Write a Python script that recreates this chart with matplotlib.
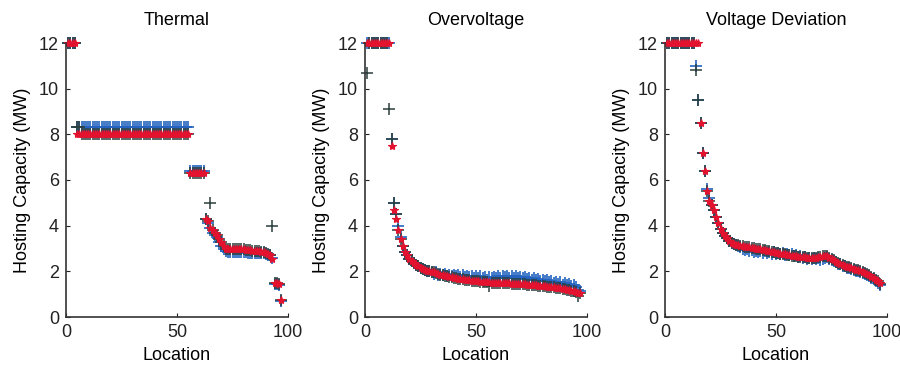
import numpy as np
import matplotlib
matplotlib.use("Agg")
import matplotlib.pyplot as plt

plt.rcParams['font.family'] = ['Liberation Sans', 'DejaVu Sans']

# location index, 1..97 for every panel
location = np.arange(1, 98)

titles = ["Thermal", "Overvoltage", "Voltage Deviation"]

# ---- Thermal ----
th_blue = ([12.0] * 4 + [8.3] * 51 + [6.4] * 7
           + [4.3, 4.1, 3.9, 3.7, 3.6, 3.5, 3.3, 3.1, 3.0, 2.9]
           + [2.85, 2.85, 2.85, 2.85, 2.85, 2.85, 2.85, 2.85, 2.85,
              2.82, 2.82, 2.82, 2.8, 2.8, 2.8, 2.8, 2.8]
           + [2.75, 2.7, 2.7, 2.6]
           + [1.45, 1.45, 1.4, 0.7])
th_dark = ([12.0] * 4 + [8.3, 8.3, 8.0] + [8.0] * 48 + [6.3] * 7
           + [4.3, 4.2, 5.0, 3.8, 3.7, 3.6, 3.4, 3.3, 3.1, 3.0]
           + [3.0, 3.0, 3.0, 3.0, 3.0, 3.0, 3.0, 3.0, 2.95, 2.95,
              2.95, 2.9, 2.9, 2.9, 2.9, 2.85, 2.85]
           + [2.8, 2.75, 2.7, 4.0]
           + [1.5, 1.5, 1.45, 0.75])
th_red = ([12.0] * 4 + [8.0] * 51 + [6.3] * 7
          + [4.3, 4.2, 3.9, 3.8, 3.7, 3.6, 3.4, 3.3, 3.1, 3.0]
          + [3.0, 3.0, 3.0, 3.0, 3.0, 3.0, 3.0, 3.0, 2.95, 2.95,
             2.95, 2.9, 2.9, 2.9, 2.9, 2.85, 2.85]
          + [2.8, 2.75, 2.7, 2.55]
          + [1.5, 1.5, 1.45, 0.75])

# ---- Overvoltage ----
ov_blue = ([12.0] * 11 + [7.8, 5.0, 4.5, 4.0, 3.5, 3.1, 2.85, 2.7, 2.55,
                          2.45, 2.35, 2.28, 2.22, 2.16]
           + [2.1, 2.05, 2.02, 2.0, 1.98]
           + [1.9, 1.95, 1.85, 1.9, 1.82, 1.88, 1.8, 1.86, 1.8, 1.84]
           + [1.78, 1.84, 1.76, 1.82, 1.75, 1.8, 1.74, 1.8, 1.72, 1.78]
           + [1.72, 1.78, 1.7, 1.76, 1.62, 1.74, 1.7, 1.76, 1.72, 1.78]
           + [1.72, 1.8, 1.74, 1.8, 1.72, 1.78, 1.7, 1.78, 1.72, 1.76]
           + [1.7, 1.74, 1.66, 1.72, 1.64, 1.7, 1.6, 1.66, 1.58, 1.64]
           + [1.56, 1.6, 1.52, 1.58, 1.5, 1.55, 1.46, 1.52, 1.42, 1.48]
           + [1.4, 1.44, 1.35, 1.38, 1.3, 1.2, 1.15])
ov_dark = ([10.7] + [12.0] * 9 + [9.1, 7.8, 5.0, 4.5, 3.8, 3.4, 3.1, 2.85,
                                  2.7, 2.55, 2.45, 2.35, 2.28, 2.22, 2.16]
           + [2.11, 2.07, 2.03, 2.0, 1.98]
           + [1.95, 1.92, 1.89, 1.86, 1.83, 1.8, 1.78, 1.76, 1.74, 1.72]
           + [1.7, 1.68, 1.66, 1.65, 1.63, 1.62, 1.6, 1.59, 1.58, 1.57]
           + [1.56, 1.55, 1.54, 1.53, 1.52, 1.35, 1.51, 1.5, 1.5, 1.49]
           + [1.49, 1.48, 1.48, 1.47, 1.47, 1.46, 1.46, 1.45, 1.45, 1.44]
           + [1.43, 1.43, 1.42, 1.41, 1.4, 1.39, 1.38, 1.37, 1.36, 1.35]
           + [1.34, 1.33, 1.33, 1.32, 1.3, 1.29, 1.27, 1.25, 1.23, 1.21]
           + [1.19, 1.17, 1.15, 1.13, 1.1, 0.9, 1.05])
ov_red = ([12.0] * 11 + [7.5, 4.7, 4.3, 3.8, 3.4, 3.1, 2.85, 2.7, 2.55,
                         2.45, 2.35, 2.28, 2.22, 2.16]
          + [2.11, 2.07, 2.03, 2.0, 1.98]
          + [1.95, 1.92, 1.89, 1.86, 1.83, 1.8, 1.78, 1.76, 1.74, 1.72]
          + [1.7, 1.68, 1.66, 1.65, 1.63, 1.62, 1.6, 1.59, 1.58, 1.57]
          + [1.56, 1.55, 1.54, 1.53, 1.52, 1.52, 1.51, 1.5, 1.5, 1.49]
          + [1.49, 1.48, 1.48, 1.47, 1.47, 1.46, 1.46, 1.45, 1.45, 1.44]
          + [1.43, 1.43, 1.42, 1.41, 1.4, 1.39, 1.38, 1.37, 1.36, 1.35]
          + [1.34, 1.33, 1.33, 1.32, 1.3, 1.29, 1.27, 1.25, 1.23, 1.21]
          + [1.19, 1.17, 1.15, 1.13, 1.1, 1.07, 1.05])

# ---- Voltage Deviation ----
vd_blue = ([12.0] * 13 + [11.0, 9.5, 8.5, 7.2, 6.4, 5.6, 5.2, 4.9, 4.7,
                          4.4, 4.1, 3.85, 3.7, 3.55, 3.45, 3.35, 3.25, 3.2,
                          3.15, 3.1, 3.05, 3.0]
           + [2.95, 3.0, 2.9, 2.95, 2.85, 2.9, 2.85, 2.9, 2.82, 2.88]
           + [2.8, 2.85, 2.78, 2.84, 2.76, 2.82, 2.75, 2.8, 2.72, 2.78]
           + [2.7, 2.74, 2.66, 2.7, 2.62, 2.66, 2.6, 2.64, 2.56, 2.6]
           + [2.55, 2.6, 2.52, 2.58, 2.5, 2.56, 2.6, 2.62, 2.55, 2.5]
           + [2.44, 2.4, 2.33, 2.3, 2.24, 2.22, 2.15, 2.16, 2.1, 2.08]
           + [2.02, 2.02, 1.96, 1.94, 1.88, 1.84, 1.78, 1.72, 1.66, 1.58,
              1.5, 1.42])
vd_dark = ([12.0] * 13 + [10.8, 9.5, 8.5, 7.2, 6.4, 5.5, 5.1, 4.9, 4.7,
                          4.4, 4.1, 3.85, 3.7, 3.55, 3.45, 3.35, 3.25, 3.2,
                          3.17, 3.15, 3.12, 3.1]
           + [3.08, 3.06, 3.05, 3.04, 3.02, 3.0, 2.98, 2.96, 2.94, 2.92]
           + [2.9, 2.88, 2.86, 2.84, 2.82, 2.8, 2.78, 2.76, 2.74, 2.72]
           + [2.7, 2.68, 2.66, 2.65, 2.64, 2.63, 2.62, 2.61, 2.6, 2.6]
           + [2.6, 2.6, 2.6, 2.62, 2.64, 2.66, 2.68, 2.66, 2.6, 2.54]
           + [2.48, 2.42, 2.37, 2.32, 2.28, 2.24, 2.2, 2.17, 2.14, 2.1]
           + [2.07, 2.04, 2.0, 1.96, 1.92, 1.87, 1.82, 1.76, 1.7, 1.64,
              1.57, 1.45])
vd_red = ([12.0] * 13 + [12.0, 12.0, 8.5, 7.2, 6.4, 5.5, 5.1, 4.9, 4.7,
                         4.4, 4.1, 3.85, 3.7, 3.55, 3.45, 3.35, 3.25, 3.2,
                         3.17, 3.15, 3.12, 3.1]
          + [3.08, 3.06, 3.05, 3.04, 3.02, 3.0, 2.98, 2.96, 2.94, 2.92]
          + [2.9, 2.88, 2.86, 2.84, 2.82, 2.8, 2.78, 2.76, 2.74, 2.72]
          + [2.7, 2.68, 2.66, 2.65, 2.64, 2.63, 2.62, 2.61, 2.6, 2.6]
          + [2.6, 2.6, 2.6, 2.62, 2.64, 2.66, 2.68, 2.66, 2.6, 2.54]
          + [2.48, 2.42, 2.37, 2.32, 2.28, 2.24, 2.2, 2.17, 2.14, 2.1]
          + [2.07, 2.04, 2.0, 1.96, 1.92, 1.87, 1.82, 1.76, 1.7, 1.64,
             1.57, 1.5])

panels = [(th_blue, th_dark, th_red),
          (ov_blue, ov_dark, ov_red),
          (vd_blue, vd_dark, vd_red)]

fig = plt.figure(figsize=(9, 3.66), dpi=100)
lefts = [66 / 900, 365 / 900, 665 / 900]

for left, title, (blue, dark, red) in zip(lefts, titles, panels):
    ax = fig.add_axes([left, 49 / 366, 222 / 900, 274 / 366])
    ax.plot(location, blue, '+', color='#2463c0', ms=8, mew=1.2)
    ax.plot(location, dark, '+', color='#2b3f3c', ms=8, mew=1.1)
    ax.plot(location, red, '*', color='#e3122f', ms=6, mew=0.8)

    ax.set_xlim(0, 100)
    ax.set_ylim(0, 12)
    ax.set_xticks([0, 50, 100])
    ax.set_yticks([0, 2, 4, 6, 8, 10, 12])
    ax.spines['top'].set_visible(False)
    ax.spines['right'].set_visible(False)
    ax.spines['left'].set_color('#333333')
    ax.spines['bottom'].set_color('#333333')
    ax.spines['left'].set_linewidth(1.2)
    ax.spines['bottom'].set_linewidth(1.2)
    ax.tick_params(direction='in', length=3, labelsize=13, colors='#222222',
                   pad=5)
    ax.set_title(title, fontsize=13, pad=13)
    ax.set_xlabel('Location', fontsize=13, labelpad=4)
    ax.set_ylabel('Hosting Capacity (MW)', fontsize=13, labelpad=6)
    for ln in ax.lines:
        ln.set_clip_on(False)

fig.savefig('out.png', dpi=100)
